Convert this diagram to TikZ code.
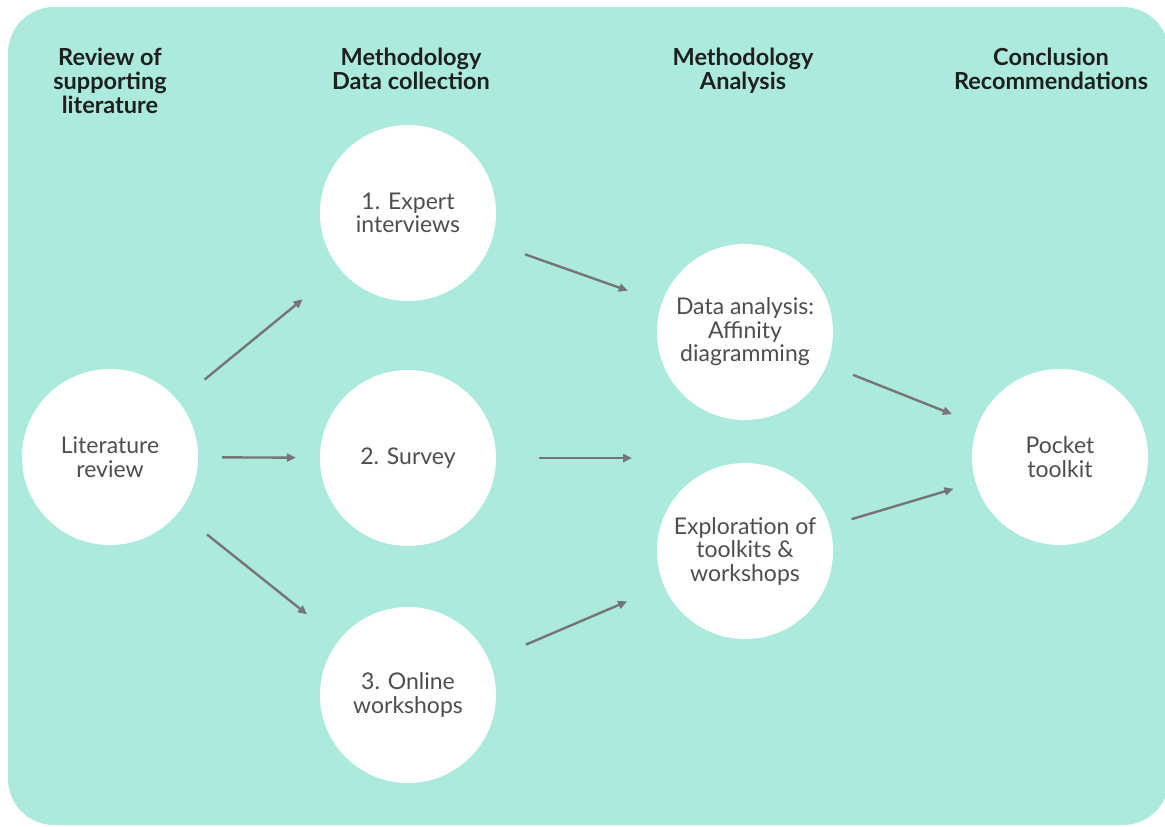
\documentclass[tikz,border=0pt]{standalone}
\usepackage{fontspec}
\setmainfont{Lato}
\usetikzlibrary{arrows.meta}

\definecolor{mint}{RGB}{172,234,222}
\definecolor{arrowgrey}{RGB}{118,116,118}
\definecolor{textgrey}{RGB}{78,78,78}

\tikzset{
  stage/.style={circle, fill=white, minimum size=176pt, inner sep=0pt,
    align=center, text=textgrey, font=\fontsize{23}{23.5}\selectfont},
  heading/.style={align=center, anchor=north, inner sep=0pt, text=black!88,
    font=\bfseries\fontsize{23.5}{24}\selectfont},
  flow/.style={-{Triangle[length=9pt,width=8pt]}, draw=arrowgrey,
    line width=2.4pt, shorten <=#1, shorten >=#1},
  flow/.default=24pt
}

\begin{document}
\begin{tikzpicture}[x=1pt,y=-1pt]

  \useasboundingbox (0,0) rectangle (1165,827); %% page size
  \fill[mint, rounded corners=46pt] (8,7) rectangle (1169,825);

  %% column headings
  \node[heading] (hreview) at (110,48) {Review of\\supporting\\literature};
  \node[heading] (hcollect) at (411,48) {Methodology\\Data collection};
  \node[heading] (hanalysis) at (743,48) {Methodology\\Analysis};
  \node[heading] (hconclude) at (1051,48) {Conclusion\\Recommendations};

  %% stages
  \node[stage] (litreview) at (110,457) {Literature\\review};
  \node[stage] (expert) at (408,213) {1. Expert\\interviews};
  \node[stage] (survey) at (408,458) {2. Survey};
  \node[stage] (online) at (408,695) {3. Online\\workshops};
  \node[stage] (affinity) at (745,332) {Data analysis:\\Affinity\\diagramming};
  \node[stage] (explore) at (745,551) {Exploration of\\toolkits \&\\workshops};
  \node[stage] (toolkit) at (1060,457) {Pocket\\toolkit};
  \coordinate (between) at (632,458);

  %% connectors
  \draw[flow=48pt, shorten <=34pt] (litreview) -- (expert);
  \draw[flow] (litreview) -- (survey);
  \draw[flow=41pt, shorten <=36pt] (litreview) -- (online);
  \draw[flow=36pt] (expert) -- (affinity);
  \draw[flow=0pt, shorten <=43pt] (survey) -- (between);
  \draw[flow=40pt] (online) -- (explore);
  \draw[flow=28pt] (affinity) -- (toolkit);
  \draw[flow=23pt] (explore) -- (toolkit);

\end{tikzpicture}
\end{document}
